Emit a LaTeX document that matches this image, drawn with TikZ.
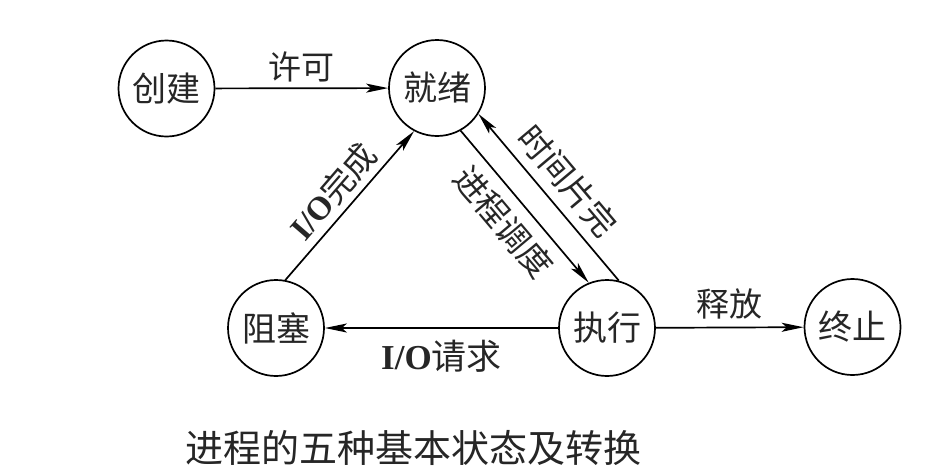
\documentclass[tikz,border=0pt]{standalone}
\usepackage{fontspec}
\setmainfont{Noto Sans CJK SC}
\newfontfamily\latfont{Liberation Serif}
\usetikzlibrary{arrows.meta}
\begin{document}
\begin{tikzpicture}[x=1pt,y=-1pt,
  state/.style={circle, draw, line width=1.7pt, minimum size=96pt, inner sep=0pt, text=black!85, font=\fontsize{34}{34}\selectfont},
  lbl/.style={font=\fontsize{33}{33}\selectfont, text=black!85, inner sep=2pt},
  arr/.style={line width=1.7pt, -{Stealth[length=22pt,width=9pt,inset=5pt]}},
  captext/.style={font=\fontsize{38}{38}\selectfont, text=black!85}]
\useasboundingbox (0,0) rectangle (939,474);
\fill[white] (0,0) rectangle (939,474);
\node[state] (cj) at (166.5,88.5) {创建};
\node[state] (jx) at (437,88) {就绪};
\node[state] (zs) at (276,328) {阻塞};
\node[state] (zx) at (607,328) {执行};
\node[state] (zz) at (852.5,327) {终止};

\draw[arr] (cj) -- node[lbl, above=3pt] {许可} (jx);
\draw[arr] (zs.79) -- node[lbl, above, sloped, yshift=4pt] {{\latfont\bfseries I/O}完成} (jx.-118);
\draw[arr] (jx.-61) -- node[lbl, below, sloped, yshift=-8pt, xshift=-2pt] {进程调度} (zx.112);
\draw[arr] (zx.76.5) -- (jx.-32);
\path (jx.-32) -- node[lbl, above, sloped, yshift=8pt] {时间片完} (zx.76.5);
\draw[arr] (zx) -- node[lbl, below=9pt, font=\fontsize{35}{35}\selectfont] {{\latfont\bfseries I/O}请求} (zs);
\draw[arr] (zx) -- node[lbl, above=5pt] {释放} (zz);

\node[captext] (caption) at (413,448) {进程的五种基本状态及转换};
\end{tikzpicture}
\end{document}
